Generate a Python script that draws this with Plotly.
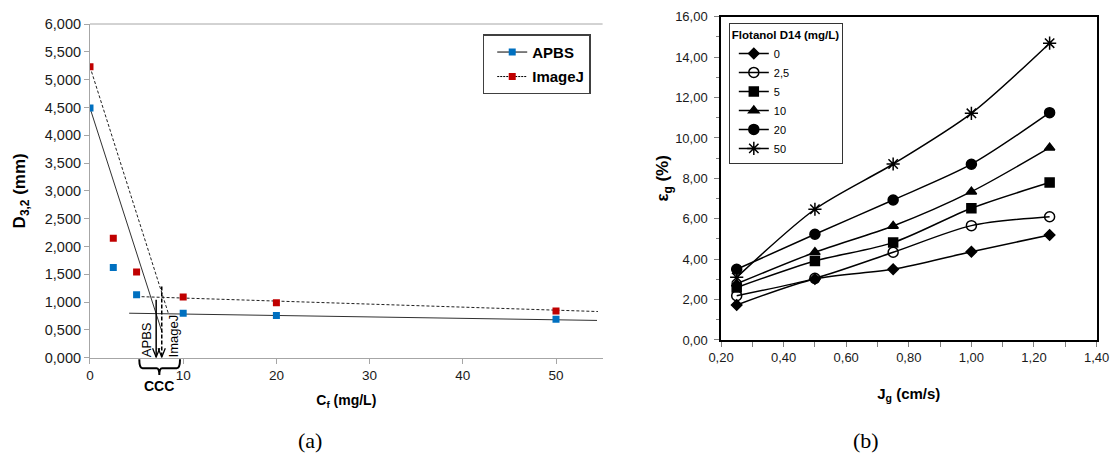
import plotly.graph_objects as go

# ---------------- Panel (a) data ----------------
cf_mgL = [0, 2.5, 5, 10, 20, 50]
d32_apbs = [4.49, 1.62, 1.13, 0.80, 0.76, 0.69]
d32_imagej = [5.23, 2.15, 1.54, 1.09, 0.99, 0.84]

# fitted trend lines (steep segment, None break, flat segment)
apbs_fit_x = [0, 7.75, None, 4.2, 54.4]
apbs_fit_y = [4.49, 0.45, None, 0.80, 0.67]
imagej_fit_x = [0, 8.4, None, 5.0, 54.5]
imagej_fit_y = [5.23, 0.80, None, 1.10, 0.83]

# critical coalescence concentration markers
ccc_x = [7.1, 7.7]            # APBS, ImageJ
ccc_arrow_top = [1.04, 1.28]
ccc_labels = ["APBS", "ImageJ"]

# ---------------- Panel (b) data ----------------
jg_cms = [0.25, 0.50, 0.75, 1.00, 1.25]
flotanol_mgL = ["0", "2,5", "5", "10", "20", "50"]
eps_0 = [1.73, 3.02, 3.50, 4.37, 5.20]
eps_2_5 = [2.19, 3.05, 4.34, 5.66, 6.10]
eps_5 = [2.60, 3.91, 4.82, 6.52, 7.79]
eps_10 = [2.78, 4.34, 5.64, 7.34, 9.52]
eps_20 = [3.50, 5.23, 6.93, 8.70, 11.25]
eps_50 = [3.10, 6.47, 8.71, 11.22, 14.69]
eps_series = [eps_0, eps_2_5, eps_5, eps_10, eps_20, eps_50]
symbols = ["diamond", "circle-open", "square", "triangle-up", "circle", "asterisk-open"]
sizes = [8, 10, 9, 9, 10, 11]

FONT = "Arial, Liberation Sans, sans-serif"
BLUE = "#0070C0"
RED = "#C00000"

fig = go.Figure()

# ---- panel (a) traces ----
fig.add_trace(go.Scatter(x=apbs_fit_x, y=apbs_fit_y, mode="lines",
                         line=dict(color="#303030", width=1), showlegend=False,
                         xaxis="x", yaxis="y", hoverinfo="skip"))
fig.add_trace(go.Scatter(x=imagej_fit_x, y=imagej_fit_y, mode="lines",
                         line=dict(color="#202020", width=1, dash="3px,2px"), showlegend=False,
                         xaxis="x", yaxis="y", hoverinfo="skip"))
fig.add_trace(go.Scatter(x=cf_mgL, y=d32_apbs, mode="markers",
                         marker=dict(symbol="square", size=7, color=BLUE),
                         showlegend=False, xaxis="x", yaxis="y"))
fig.add_trace(go.Scatter(x=cf_mgL, y=d32_imagej, mode="markers",
                         marker=dict(symbol="square", size=7, color=RED),
                         showlegend=False, xaxis="x", yaxis="y"))
# legend entries (a)
fig.add_trace(go.Scatter(x=[None], y=[None], mode="lines+markers", name="APBS",
                         line=dict(color="black", width=1),
                         marker=dict(symbol="square", size=7, color=BLUE),
                         legend="legend", legendgroup="a1", xaxis="x", yaxis="y"))
fig.add_trace(go.Scatter(x=[None], y=[None], mode="lines+markers", name="ImageJ",
                         line=dict(color="black", width=1, dash="2px,1px"),
                         marker=dict(symbol="square", size=7, color=RED),
                         legend="legend", legendgroup="a2", xaxis="x", yaxis="y"))

# ---- panel (b) traces ----
for name, vals, sym, sz in zip(flotanol_mgL, eps_series, symbols, sizes):
    fig.add_trace(go.Scatter(
        x=jg_cms, y=vals, mode="lines+markers", name=name,
        line=dict(color="black", width=1.5, shape="spline", smoothing=0.8),
        marker=dict(symbol=sym, size=sz, color="black",
                    line=dict(color="black", width=1.5)),
        legend="legend2", xaxis="x2", yaxis="y2"))

# ---- layout ----
tickfont_a_y = dict(family=FONT, size=14.5, color="#1a1a1a")
tickfont_a_x = dict(family=FONT, size=13.5, color="#1a1a1a")
tickfont_b = dict(family=FONT, size=13, color="#1a1a1a")

fig.update_layout(
    width=1111, height=459,
    margin=dict(l=0, r=0, t=0, b=0, autoexpand=False),
    paper_bgcolor="white", plot_bgcolor="white",
    separators=",.",
    font=dict(family=FONT, color="black"),
    xaxis=dict(domain=[0.0810, 0.5424], range=[0, 55], dtick=10, tick0=0, automargin=False,
               showgrid=False, zeroline=False, showline=True, linecolor="#A6A6A6", linewidth=1,
               ticks="outside", ticklen=5, tickcolor="#A6A6A6", tickfont=tickfont_a_x,
               title=dict(text="<b>C<sub>f</sub> (mg/L)</b>", font=dict(family=FONT, size=14), standoff=13),
               anchor="y"),
    yaxis=dict(domain=[0.2207, 0.9477], range=[0, 6], dtick=0.5, tick0=0, tickformat=".3f", automargin=False,
               showgrid=False, zeroline=False, showline=True, linecolor="#A6A6A6", linewidth=1,
               ticks="outside", ticklen=5, tickcolor="#A6A6A6", tickfont=tickfont_a_y,
               title=dict(text="<b>D<sub>3,2</sub> (mm)</b>", font=dict(family=FONT, size=17), standoff=14),
               anchor="x"),
    xaxis2=dict(domain=[0.6490, 0.9870], range=[0.2, 1.4], dtick=0.2, tick0=0.2, tickformat=".2f", automargin=False,
                showgrid=False, zeroline=False, showline=True, mirror=True, linecolor="black", linewidth=1.5,
                ticks="outside", ticklen=5, tickcolor="#808080", tickfont=tickfont_b,
                minor=dict(dtick=0.1, ticks="outside", ticklen=5, tickcolor="#808080"),
                title=dict(text="<b>J<sub>g</sub> (cm/s)</b>", font=dict(family=FONT, size=15), standoff=24),
                anchor="y2"),
    yaxis2=dict(domain=[0.2593, 0.9636], range=[0, 16], dtick=2, tick0=0, tickformat=".2f", automargin=False,
                showgrid=False, zeroline=False, showline=True, mirror=True, linecolor="black", linewidth=1.5,
                ticks="outside", ticklen=5, tickcolor="#808080", tickfont=tickfont_b,
                ticklabelstandoff=4,
                minor=dict(dtick=1, ticks="outside", ticklen=3, tickcolor="#808080"),
                title=dict(text="<b>ε<sub>g</sub> (%)</b>", font=dict(family=FONT, size=17), standoff=2),
                anchor="x2"),
    legend=dict(x=0.4345, y=0.9253, xanchor="left", yanchor="top",
                bgcolor="white", bordercolor="#404040", borderwidth=1.5,
                font=dict(family=FONT, size=15, weight="bold", color="black"),
                tracegroupgap=2, itemwidth=30, indentation=8),
    legend2=dict(x=0.656, y=0.950, xanchor="left", yanchor="top",
                 bgcolor="white", bordercolor="#333333", borderwidth=1,
                 font=dict(family=FONT, size=11, color="black"),
                 title=dict(text="Flotanol D14 (mg/L)", font=dict(family=FONT, size=11.5, weight="bold")),
                 tracegroupgap=0, itemwidth=30, indentation=4),
    showlegend=True,
)

# top border line of panel (a)
fig.add_shape(type="line", xref="x domain", yref="y domain", x0=0, x1=1, y0=1, y1=1,
              line=dict(color="#A6A6A6", width=1))

# CCC arrows (a): shafts and open V heads
fig.add_shape(type="line", xref="x", yref="y", x0=ccc_x[0], x1=ccc_x[0], y0=ccc_arrow_top[0], y1=0.01,
              line=dict(color="black", width=1.5))
fig.add_shape(type="line", xref="x", yref="y", x0=ccc_x[1], x1=ccc_x[1], y0=ccc_arrow_top[1], y1=0.01,
              line=dict(color="black", width=1.5, dash="4px,2px"))
for cx in ccc_x:
    fig.add_shape(type="path", xref="x", yref="y",
                  path=f"M {cx-0.38},0.17 L {cx},0.01 L {cx+0.38},0.17",
                  line=dict(color="black", width=1.3))

fig.add_annotation(x=ccc_x[0] - 1.0, y=0.33, xref="x", yref="y", text=ccc_labels[0],
                   textangle=-90, showarrow=False, xanchor="center", yanchor="middle",
                   font=dict(family=FONT, size=13, color="black"))
fig.add_annotation(x=ccc_x[1] + 1.25, y=0.39, xref="x", yref="y", text=ccc_labels[1],
                   textangle=-90, showarrow=False, xanchor="center", yanchor="middle",
                   font=dict(family=FONT, size=13, color="black"))

# brace under the axis
xl, xm, xr = 5.29, 7.44, 9.66
yt, yh, ys = 0.2172, 0.1976, 0.183
brace = (f"M {xl},{yt} Q {xl},{yh} {xl+0.35},{yh} L {xm-0.3},{yh} Q {xm},{yh} {xm},{ys} "
         f"M {xm},{ys} Q {xm},{yh} {xm+0.3},{yh} L {xr-0.35},{yh} Q {xr},{yh} {xr},{yt}")
fig.add_shape(type="path", xref="x", yref="paper", path=brace,
              line=dict(color="black", width=2))
fig.add_annotation(x=xm, y=0.159, xref="x", yref="paper", text="<b>CCC</b>", showarrow=False,
                   xanchor="center", yanchor="middle",
                   font=dict(family=FONT, size=14, color="black"))

# captions
SERIF = "Times New Roman, Liberation Serif, serif"
fig.add_annotation(x=310 / 1111, y=1 - 440 / 459, xref="paper", yref="paper", text="(a)", showarrow=False,
                   xanchor="center", yanchor="middle", font=dict(family=SERIF, size=22, color="black"))
fig.add_annotation(x=866 / 1111, y=1 - 440 / 459, xref="paper", yref="paper", text="(b)", showarrow=False,
                   xanchor="center", yanchor="middle", font=dict(family=SERIF, size=22, color="black"))

fig.write_html("out.html", config={"displayModeBar": False},
               post_script="document.body.style.margin='0px';")
